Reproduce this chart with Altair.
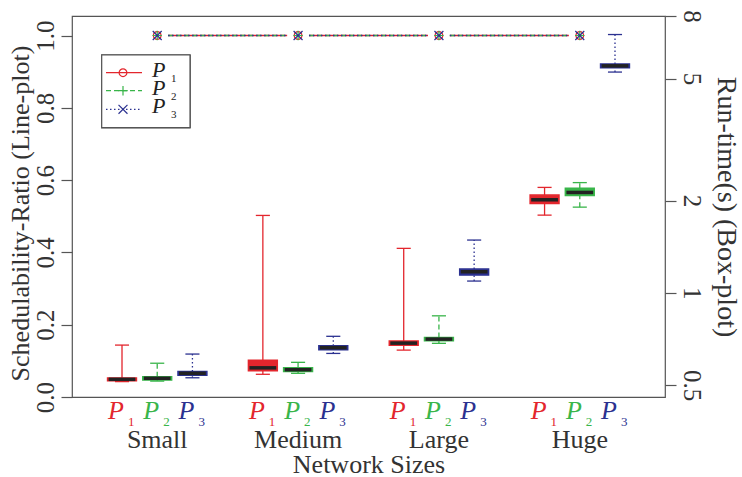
import altair as alt
import pandas as pd

# ---- data -------------------------------------------------------------
sizes = ["Small", "Medium", "Large", "Huge"]
methods = ["1", "2", "3"]                       # subscripts of P
colors = ["#E3262D", "#39B54A", "#2B3190"]

# schedulability ratio (line plot, left axis), one value per network size
ratio_p1 = [1.0, 1.0, 1.0, 1.0]
ratio_p2 = [1.0, 1.0, 1.0, 1.0]
ratio_p3 = [1.0, 1.0, 1.0, 1.0]
ratios = [ratio_p1, ratio_p2, ratio_p3]

# run-time box statistics in seconds (right axis, log scale)
# order: Small P1, P2, P3, Medium P1, P2, P3, Large ..., Huge ...
rt_low    = [0.513, 0.515, 0.528, 0.542, 0.546, 0.634, 0.650, 0.684, 1.092, 1.792, 1.903, 5.25]
rt_q1     = [0.516, 0.519, 0.538, 0.557, 0.553, 0.652, 0.674, 0.697, 1.142, 1.957, 2.078, 5.42]
rt_median = [0.522, 0.526, 0.546, 0.569, 0.561, 0.662, 0.685, 0.706, 1.171, 2.011, 2.125, 5.50]
rt_q3     = [0.527, 0.532, 0.553, 0.602, 0.569, 0.672, 0.696, 0.715, 1.195, 2.083, 2.195, 5.58]
rt_high   = [0.675, 0.589, 0.631, 1.788, 0.593, 0.721, 1.396, 0.841, 1.486, 2.207, 2.288, 6.96]

left_ticks = [0.0, 0.2, 0.4, 0.6, 0.8, 1.0]
right_ticks = [0.5, 1, 2, 5, 8]

# ---- styling ----------------------------------------------------------
FONT = "Liberation Serif"
INK = "#333333"
FRAME = "#555555"
W, H = 593, 381
dashes = [[1, 0], [5, 3], [1.5, 2.5]]
PLUS = "M-1,0L1,0M0,-1L0,1"
CROSS = "M-1,-1L1,1M-1,1L1,-1"
shapes = ["circle", PLUS, CROSS]
shape_sizes = [60, 90, 80]

x_scale = alt.Scale(domain=[-1.42, 15.42], nice=False, zero=False)
x_axis = alt.Axis(orient="bottom", title="Network Sizes", labels=False, ticks=False,
                  grid=False, domain=False, titleFont=FONT, titleFontSize=26,
                  titleFontWeight="normal", titleColor=INK, titleBaseline="alphabetic",
                  titleY=75, titleX=W / 2)

left_scale = alt.Scale(domain=[0, 1.054], nice=False, zero=False)
left_axis = alt.Axis(orient="left", values=left_ticks, format=".1f",
                     title="Schedulability-Ratio (Line-plot)", grid=False, domain=False,
                     tickSize=11, tickColor=FRAME, tickWidth=1.2,
                     labelAngle=270, labelAlign="center", labelBaseline="alphabetic",
                     labelPadding=8, labelFont=FONT, labelFontSize=25, labelColor=INK,
                     titleAngle=270, titleAlign="center", titleBaseline="alphabetic",
                     titleX=-43.5, titleY=197, titleFont=FONT, titleFontSize=26,
                     titleFontWeight="normal", titleColor=INK)

right_scale = alt.Scale(type="log", domain=[0.457, 8.0], nice=False, zero=False)
right_axis = alt.Axis(orient="right", values=right_ticks, format="~g",
                      title="Run-time(s) (Box-plot)", grid=False, domain=False,
                      tickSize=11, tickColor=FRAME, tickWidth=1.2,
                      labelAngle=90, labelAlign="center", labelBaseline="alphabetic",
                      labelPadding=7, labelFont=FONT, labelFontSize=25, labelColor=INK,
                      titleAngle=90, titleAlign="center", titleBaseline="alphabetic",
                      titleX=52, titleY=H / 2, titleFont=FONT, titleFontSize=28,
                      titleFontWeight="normal", titleColor=INK)

color_scale = alt.Scale(domain=methods, range=colors)


def X(field):
    return alt.X(f"{field}:Q", scale=x_scale, axis=x_axis)


def YL(field):
    return alt.Y(f"{field}:Q", scale=left_scale, axis=left_axis)


def YR(field):
    return alt.Y(f"{field}:Q", scale=right_scale, axis=right_axis)


col = alt.Color("m:N", scale=color_scale, legend=None)

# ---- box plots (run-time) --------------------------------------------
box_df = pd.DataFrame({
    "g": [i // 3 for i in range(12)],
    "k": [i % 3 for i in range(12)],
    "m": [methods[i % 3] for i in range(12)],
    "lo": rt_low, "q1": rt_q1, "med": rt_median, "q3": rt_q3, "hi": rt_high,
})

box_base = alt.Chart(box_df).transform_calculate(
    slot="4 * datum.g + datum.k",
).transform_calculate(
    xl="datum.slot - 0.41", xr="datum.slot + 0.41",
    cl="datum.slot - 0.2", cr="datum.slot + 0.2",
    ml="datum.slot - 0.38", mr="datum.slot + 0.38",
)

dash_enc = alt.StrokeDash("m:N", scale=alt.Scale(domain=methods, range=dashes), legend=None)

whisk_hi = box_base.mark_rule(strokeWidth=1.3).encode(
    x=X("slot"), y=YR("q3"), y2="hi", color=col, strokeDash=dash_enc)
whisk_lo = box_base.mark_rule(strokeWidth=1.3).encode(
    x=X("slot"), y=YR("lo"), y2="q1", color=col, strokeDash=dash_enc)
cap_hi = box_base.mark_rule(strokeWidth=1.3).encode(
    x=X("cl"), x2="cr", y=YR("hi"), color=col)
cap_lo = box_base.mark_rule(strokeWidth=1.3).encode(
    x=X("cl"), x2="cr", y=YR("lo"), color=col)
box_rect = box_base.mark_rect(strokeWidth=1.5).encode(
    x=X("xl"), x2="xr", y=YR("q1"), y2="q3",
    fill=alt.Fill("m:N", scale=color_scale, legend=None),
    stroke=alt.Stroke("m:N", scale=color_scale, legend=None))
median = box_base.mark_rule(strokeWidth=3.5, color="#222222").encode(
    x=X("ml"), x2="mr", y=YR("med"))

box_group = alt.layer(whisk_hi, whisk_lo, cap_hi, cap_lo, box_rect, median)

# ---- line plot (schedulability ratio) ---------------------------------
line_layers = []
for k, m in enumerate(methods):
    r = ratios[k]
    seg_df = pd.DataFrame({"g": list(range(len(sizes) - 1)), "r0": r[:-1], "r1": r[1:]})
    line_layers.append(
        alt.Chart(seg_df).transform_calculate(
            xa="4 * datum.g + 1 + 0.31", xb="4 * datum.g + 5 - 0.31"
        ).mark_rule(color=colors[k], strokeWidth=1.3, strokeDash=dashes[k]).encode(
            x=X("xa"), x2="xb", y=YL("r0"), y2="r1")
    )
for k, m in enumerate(methods):
    pt_df = pd.DataFrame({"g": list(range(len(sizes))), "ratio": ratios[k]})
    line_layers.append(
        alt.Chart(pt_df).transform_calculate(slot="4 * datum.g + 1").mark_point(
            shape=shapes[k], filled=False, color=colors[k], size=shape_sizes[k],
            strokeWidth=1.2, opacity=1).encode(x=X("slot"), y=YL("ratio"))
    )
line_group = alt.layer(*line_layers)

# ---- category labels under the axis ----------------------------------
lab_df = pd.DataFrame({
    "g": [i // 3 for i in range(12)],
    "k": [i % 3 for i in range(12)],
    "m": [methods[i % 3] for i in range(12)],
})
lab_base = alt.Chart(lab_df).transform_calculate(slot="4 * datum.g + datum.k")
p_text = lab_base.mark_text(font=FONT, fontSize=26, fontStyle="italic", align="right",
                            baseline="alphabetic", dx=2).encode(
    x=X("slot"), y=alt.value(H + 22.3), text=alt.value("P"), color=col)
p_sub = lab_base.mark_text(font=FONT, fontSize=13, align="left",
                           baseline="alphabetic", dx=6).encode(
    x=X("slot"), y=alt.value(H + 29), text="m:N", color=col)

size_df = pd.DataFrame({"g": list(range(len(sizes))), "size": sizes})
size_text = alt.Chart(size_df).transform_calculate(slot="4 * datum.g + 1").mark_text(
    font=FONT, fontSize=26, align="center", baseline="alphabetic", color=INK).encode(
    x=X("slot"), y=alt.value(H + 50.7), text="size:N")

# ---- legend box ------------------------------------------------------
legend_layers = [
    alt.Chart(pd.DataFrame({"m": methods})).mark_rect(
        fill="white", stroke=FRAME, strokeWidth=1.2).encode(
        x=alt.value(29.7), x2=alt.value(118), y=alt.value(39), y2=alt.value(111.7))
]
rows = [56.7, 74.7, 93.3]
for k, m in enumerate(methods):
    d = pd.DataFrame({"m": [m]})
    ry = rows[k]
    legend_layers += [
        alt.Chart(d).mark_rule(color=colors[k], strokeWidth=1.2, strokeDash=dashes[k]).encode(
            x=alt.value(34), x2=alt.value(70), y=alt.value(ry)),
        alt.Chart(d).mark_point(shape=shapes[k], filled=False, color=colors[k],
                                size=shape_sizes[k], strokeWidth=1.2, opacity=1).encode(
            x=alt.value(51), y=alt.value(ry)),
        alt.Chart(d).mark_text(font=FONT, fontSize=22, fontStyle="italic", align="left",
                               baseline="alphabetic", color="#222222").encode(
            x=alt.value(80), y=alt.value(ry + 4), text=alt.value("P")),
        alt.Chart(d).mark_text(font=FONT, fontSize=11, align="left",
                               baseline="alphabetic", color="#222222").encode(
            x=alt.value(99), y=alt.value(ry + 9), text="m:N"),
    ]

chart = alt.layer(
    line_group, box_group, p_text, p_sub, size_text, *legend_layers
).resolve_scale(
    y="independent"
).properties(
    width=W, height=H,
    autosize=alt.AutoSizeParams(type="none"),
    padding={"left": 72, "top": 16, "right": 77, "bottom": 80},
).configure_view(
    stroke=FRAME, strokeWidth=1.2
)

chart.save("out.html", embed_options={"renderer": "svg", "actions": False})
